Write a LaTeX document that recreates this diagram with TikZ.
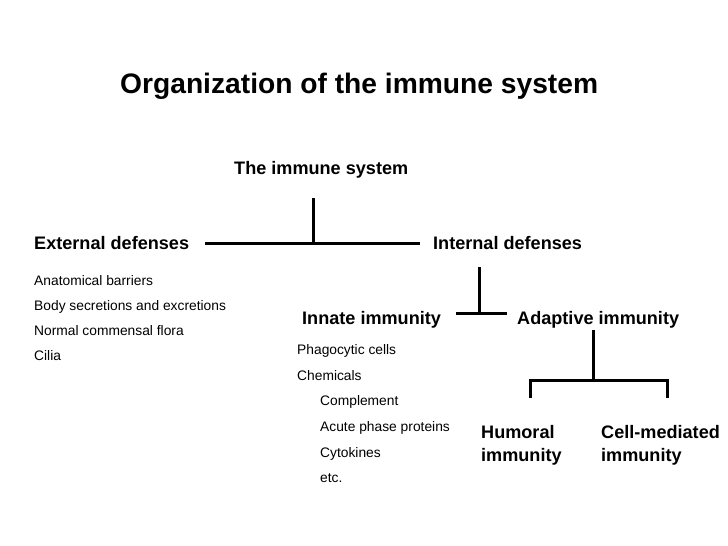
\documentclass[tikz,border=0pt]{standalone}
\usepackage{fontspec}
\setmainfont{Liberation Sans}
\begin{document}
\begin{tikzpicture}[x=1pt,y=-1pt,
  title/.style={anchor=base west,inner sep=0pt,font=\fontsize{28.2}{30}\selectfont\bfseries},
  head/.style={anchor=base west,inner sep=0pt,font=\fontsize{18.1}{22.5}\selectfont\bfseries},
  item/.style={anchor=base west,inner sep=0pt,font=\fontsize{13.8}{15}\selectfont},
  link/.style={line width=3pt}]
\useasboundingbox (0,0) rectangle (728,546);
\node[title] (t) at (120,93) {Organization of the immune system};
\node[head] (sys) at (234,174) {The immune system};
\node[head] (ext) at (34,249) {External defenses};
\node[head] (int) at (433,249) {Internal defenses};
\node[item] (e1) at (34,285) {Anatomical barriers};
\node[item] (e2) at (34,310) {Body secretions and excretions};
\node[item] (e3) at (34,335) {Normal commensal flora};
\node[item] (e4) at (34,360) {Cilia};
\node[head] (inn) at (302,324) {Innate immunity};
\node[head] (ada) at (517,324) {Adaptive immunity};
\node[item] (i1) at (297,354) {Phagocytic cells};
\node[item] (i2) at (297,380) {Chemicals};
\node[item] (i3) at (320,405) {Complement};
\node[item] (i4) at (320,431) {Acute phase proteins};
\node[item] (i5) at (320,457) {Cytokines};
\node[item] (i6) at (320,482) {etc.};
\node[head,align=left] (hum) at (481,461) {Humoral\\immunity};
\node[head,align=left] (cell) at (601,461) {Cell-mediated\\immunity};
% connectors
\coordinate (s0) at (313,198);
\coordinate (s1) at (313,243);
\coordinate (eL) at (205,243);
\coordinate (eR) at (420,243);
\draw[link] (s0) -- (s1);
\draw[link] (eL) -- (eR);
\coordinate (n0) at (479,267);
\coordinate (n1) at (479,313);
\coordinate (nL) at (456,313);
\coordinate (nR) at (507,313);
\draw[link] (n0) -- (n1);
\draw[link] (nL) -- (nR);
\coordinate (a0) at (593,330);
\coordinate (a1) at (593,380);
\coordinate (aL) at (530,380);
\coordinate (aR) at (667,380);
\coordinate (hL) at (530,398);
\coordinate (hR) at (667,398);
\draw[link] (a0) -- (a1);
\draw[link] (hL) -- (aL) -- (aR) -- (hR);
\end{tikzpicture}
\end{document}
